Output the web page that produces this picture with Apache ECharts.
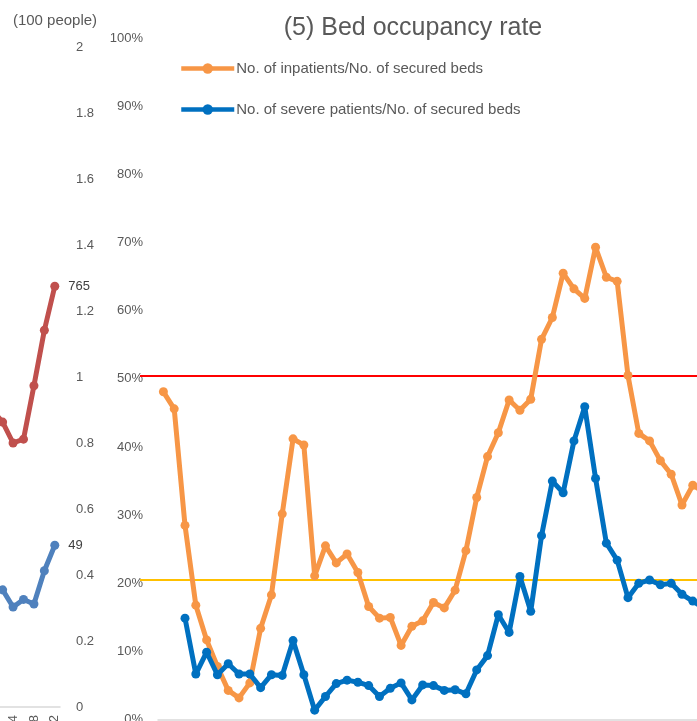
<!DOCTYPE html>
<html>
<head>
<meta charset="utf-8">
<script src="https://cdn.jsdelivr.net/npm/echarts@6/dist/echarts.min.js"></script>
<style>
  html, body { margin: 0; padding: 0; background: #fff; }
  #chart { width: 697px; height: 721px; }
</style>
</head>
<body>
<div id="chart"></div>
<script>
// main chart: weekly points (labels are cropped off below the picture)
const weeks = ['w1','w2','w3','w4','w5','w6','w7','w8','w9','w10','w11','w12','w13','w14','w15','w16','w17',
  'w18','w19','w20','w21','w22','w23','w24','w25','w26','w27','w28','w29','w30','w31','w32','w33','w34',
  'w35','w36','w37','w38','w39','w40','w41','w42','w43','w44','w45','w46','w47','w48','w49','w50','w51'];

const inpatientRate = [48.1, 45.6, 28.5, 16.8, 11.7, 7.8, 4.3, 3.2, 5.4, 13.4,
  18.3, 30.2, 41.2, 40.3, 21.1, 25.5, 23.0, 24.3, 21.6, 16.6,
  14.9, 15.0, 10.9, 13.7, 14.5, 17.2, 16.4, 19.0, 24.8, 32.6,
  38.6, 42.1, 46.9, 45.4, 47.0, 55.8, 59.0, 65.5, 63.2, 61.8,
  69.3, 64.9, 64.3, 50.5, 42.0, 40.9, 38.0, 36.0, 31.5, 34.4, 33.4];

const severeRate = [null, null, 14.9, 6.7, 9.9, 6.6, 8.2, 6.7, 6.7, 4.7,
  6.6, 6.5, 11.6, 6.6, 1.4, 3.4, 5.3, 5.8, 5.5, 5.0,
  3.4, 4.6, 5.4, 2.9, 5.1, 5.0, 4.3, 4.4, 3.8, 7.3,
  9.4, 15.4, 12.8, 21.0, 15.9, 27.0, 35.0, 33.3, 40.9, 45.9,
  35.4, 25.9, 23.4, 17.9, 20.0, 20.5, 19.8, 20.0, 18.4, 17.4, 16.4];

// reference lines
const refEnds = ['start', 'end'];
const redLine = [50.4, 50.4];
const yellowLine = [20.5, 20.5];

// left (cropped) neighbour chart
const leftDays = ['8/10','8/12','8/14','8/16','8/18','8/20','8/22'];
const leftRed = [540, 518, 480, 487, 584, 685, 765];
const leftBlue = [37, 35.5, 30.3, 32.6, 31.2, 41.3, 49];

const grey = '#595959';
const font = 'Liberation Sans, Arial, sans-serif';

let chart = echarts.init(document.getElementById('chart'));

function lastLabel(arr){
  return arr.map((v, i) => i == arr.length - 1
    ? { value: v, label: { show: true, position: 'right', distance: 9, color: '#404040', fontSize: 13, fontFamily: font } }
    : v);
}

let option = {
  animation: false,
  title: {
    text: '(5) Bed occupancy rate',
    left: 408, top: 11, textAlign: 'center',
    textStyle: { color: grey, fontSize: 25, fontWeight: 'normal', fontFamily: font }
  },
  legend: {
    data: ['No. of inpatients/No. of secured beds', 'No. of severe patients/No. of secured beds'],
    orient: 'vertical',
    left: 179, top: 61, padding: 0,
    itemWidth: 53, itemHeight: 13, itemGap: 26,
    lineStyle: { width: 4.5 },
    textStyle: { color: grey, fontSize: 15, fontFamily: font, padding: [0, 0, 0, -3] }
  },
  grid: [
    { left: 158, right: -12, top: 38, bottom: 1.3, outerBoundsMode: 'none' },
    { left: 140, right: 0, top: 38, bottom: 1.3, outerBoundsMode: 'none' },
    { left: -13, width: 73, top: 47, bottom: 14, outerBoundsMode: 'none' }
  ],
  xAxis: [
    {
      gridIndex: 0, type: 'category', data: weeks, boundaryGap: true,
      axisLine: { lineStyle: { color: '#D9D9D9', width: 1.5 } },
      axisTick: { show: false }, axisLabel: { show: false }
    },
    { gridIndex: 1, type: 'category', data: refEnds, boundaryGap: false, show: false },
    {
      gridIndex: 2, type: 'category', data: leftDays, boundaryGap: true,
      axisLine: { lineStyle: { color: '#D9D9D9', width: 1.5 } },
      axisTick: { show: false },
      axisLabel: { rotate: 90, interval: 1, margin: 8, color: grey, fontSize: 13, fontFamily: font }
    }
  ],
  yAxis: [
    {
      gridIndex: 0, type: 'value', min: 0, max: 100, interval: 10,
      axisLine: { show: false }, axisTick: { show: false }, splitLine: { show: false },
      axisLabel: { formatter: '{value}%', margin: 15, color: grey, fontSize: 13, fontFamily: font }
    },
    { gridIndex: 1, type: 'value', min: 0, max: 100, show: false },
    { gridIndex: 2, type: 'value', min: 0, max: 1200, show: false },
    {
      gridIndex: 2, type: 'value', position: 'right', min: 0, max: 200, interval: 20,
      name: '(100 people)', nameLocation: 'end', nameGap: 19,
      nameTextStyle: { color: grey, fontSize: 15, fontFamily: font, align: 'center', padding: [0, 10, 0, 0] },
      axisLine: { show: false }, axisTick: { show: false }, splitLine: { show: false },
      axisLabel: { formatter: v => String(v / 100), margin: 16, color: grey, fontSize: 13, fontFamily: font }
    }
  ],
  series: [
    {
      name: 'red line', type: 'line', xAxisIndex: 1, yAxisIndex: 1, data: redLine,
      showSymbol: false, lineStyle: { color: '#FF0000', width: 2 }, z: 1
    },
    {
      name: 'yellow line', type: 'line', xAxisIndex: 1, yAxisIndex: 1, data: yellowLine,
      showSymbol: false, lineStyle: { color: '#FFC000', width: 2 }, z: 1
    },
    {
      name: 'No. of inpatients/No. of secured beds', type: 'line', xAxisIndex: 0, yAxisIndex: 0,
      data: inpatientRate, symbol: 'circle', symbolSize: 9, showAllSymbol: true,
      itemStyle: { color: '#F79646' }, lineStyle: { color: '#F79646', width: 5 }, z: 3
    },
    {
      name: 'No. of severe patients/No. of secured beds', type: 'line', xAxisIndex: 0, yAxisIndex: 0,
      data: severeRate, symbol: 'circle', symbolSize: 9, showAllSymbol: true,
      itemStyle: { color: '#0070C0' }, lineStyle: { color: '#0070C0', width: 5 }, z: 4
    },
    {
      name: 'left red', type: 'line', xAxisIndex: 2, yAxisIndex: 2,
      data: lastLabel(leftRed), symbol: 'circle', symbolSize: 9, showAllSymbol: true,
      itemStyle: { color: '#C0504D' }, lineStyle: { color: '#C0504D', width: 5 }
    },
    {
      name: 'left blue', type: 'line', xAxisIndex: 2, yAxisIndex: 3,
      data: lastLabel(leftBlue), symbol: 'circle', symbolSize: 9, showAllSymbol: true,
      itemStyle: { color: '#4F81BD' }, lineStyle: { color: '#4F81BD', width: 5 }
    }
  ]
};
chart.setOption(option);
</script>
</body>
</html>
